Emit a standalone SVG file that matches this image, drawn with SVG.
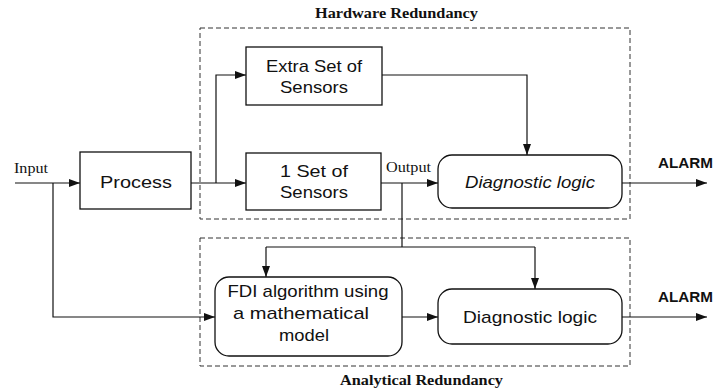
<svg xmlns="http://www.w3.org/2000/svg" width="719" height="390" viewBox="0 0 719 390">
<style>
.box{fill:#fff;stroke:#111;stroke-width:1.3}
.grp{fill:none;stroke:#333;stroke-width:1;stroke-dasharray:5,3}
.ln{fill:none;stroke:#111;stroke-width:1.2}
.lbl{font-family:"Liberation Sans",Arial,sans-serif;font-size:17px;fill:#111;text-anchor:middle}
.ser{font-family:"Liberation Serif","Times New Roman",serif;font-size:14px;fill:#111}
.ttl{font-family:"Liberation Serif","Times New Roman",serif;font-size:14px;font-weight:bold;fill:#111}
.alarm{font-family:"Liberation Sans",Arial,sans-serif;font-size:14px;font-weight:bold;fill:#111}
</style>
<defs>
<marker id="ah" markerWidth="11" markerHeight="8" refX="11" refY="4" orient="auto" markerUnits="userSpaceOnUse">
<path d="M0,0 L11,4 L0,8 z" fill="#111"/>
</marker>
</defs>
<rect width="719" height="390" fill="#fff"/>

<g id="hardware-group">
<rect class="grp" x="200" y="28" width="430" height="191"/>
<text class="ttl" x="315" y="18" textLength="163" lengthAdjust="spacingAndGlyphs">Hardware Redundancy</text>
</g>
<g id="analytical-group">
<rect class="grp" x="200" y="238" width="430" height="128"/>
<text class="ttl" x="340" y="385" textLength="163" lengthAdjust="spacingAndGlyphs">Analytical Redundancy</text>
</g>

<g id="connectors">
<line class="ln" x1="15" y1="183" x2="80" y2="183" marker-end="url(#ah)"/>
<polyline class="ln" points="53,183 53,317 215,317" marker-end="url(#ah)"/>
<line class="ln" x1="191" y1="183" x2="246" y2="183" marker-end="url(#ah)"/>
<polyline class="ln" points="216,183 216,75 246,75" marker-end="url(#ah)"/>
<polyline class="ln" points="382,75 527,75 527,155" marker-end="url(#ah)"/>
<line class="ln" x1="381" y1="183" x2="438" y2="183" marker-end="url(#ah)"/>
<polyline class="ln" points="402,183 402,247"/>
<polyline class="ln" points="266,247 535,247"/>
<line class="ln" x1="266" y1="247" x2="266" y2="277" marker-end="url(#ah)"/>
<line class="ln" x1="535" y1="247" x2="535" y2="289" marker-end="url(#ah)"/>
<line class="ln" x1="402" y1="317" x2="438" y2="317" marker-end="url(#ah)"/>
<line class="ln" x1="622" y1="183" x2="707" y2="183" marker-end="url(#ah)"/>
<line class="ln" x1="622" y1="317" x2="707" y2="317" marker-end="url(#ah)"/>
<text class="ser" x="14" y="173" textLength="34" lengthAdjust="spacingAndGlyphs">Input</text>
<text class="ser" x="386" y="172" textLength="45" lengthAdjust="spacingAndGlyphs">Output</text>
<text class="alarm" x="658" y="168" textLength="55" lengthAdjust="spacingAndGlyphs">ALARM</text>
<text class="alarm" x="658" y="302" textLength="55" lengthAdjust="spacingAndGlyphs">ALARM</text>
</g>

<g id="process">
<rect class="box" x="80" y="152" width="111" height="57"/>
<text class="lbl" x="136" y="188" textLength="72" lengthAdjust="spacingAndGlyphs">Process</text>
</g>
<g id="extra-sensors">
<rect class="box" x="246" y="47" width="136" height="58"/>
<text class="lbl" x="314" y="72" textLength="96" lengthAdjust="spacingAndGlyphs">Extra Set of</text>
<text class="lbl" x="314" y="93" textLength="68" lengthAdjust="spacingAndGlyphs">Sensors</text>
</g>
<g id="sensors">
<rect class="box" x="246" y="153" width="135" height="57"/>
<text class="lbl" x="314" y="177" textLength="68" lengthAdjust="spacingAndGlyphs">1 Set of</text>
<text class="lbl" x="314" y="198" textLength="68" lengthAdjust="spacingAndGlyphs">Sensors</text>
</g>
<g id="diag-hw">
<rect class="box" x="438" y="155" width="184" height="53" rx="14"/>
<text class="lbl" x="530" y="188" font-style="italic" textLength="130" lengthAdjust="spacingAndGlyphs">Diagnostic logic</text>
</g>
<g id="fdi">
<rect class="box" x="215" y="277" width="187" height="79" rx="14"/>
<text class="lbl" x="308" y="297" textLength="161" lengthAdjust="spacingAndGlyphs">FDI algorithm using</text>
<text class="lbl" x="301" y="319" textLength="136" lengthAdjust="spacingAndGlyphs">a mathematical</text>
<text class="lbl" x="304" y="341" textLength="50" lengthAdjust="spacingAndGlyphs">model</text>
</g>
<g id="diag-an">
<rect class="box" x="438" y="289" width="184" height="55" rx="14"/>
<text class="lbl" x="530" y="323" textLength="134" lengthAdjust="spacingAndGlyphs">Diagnostic logic</text>
</g>
</svg>
